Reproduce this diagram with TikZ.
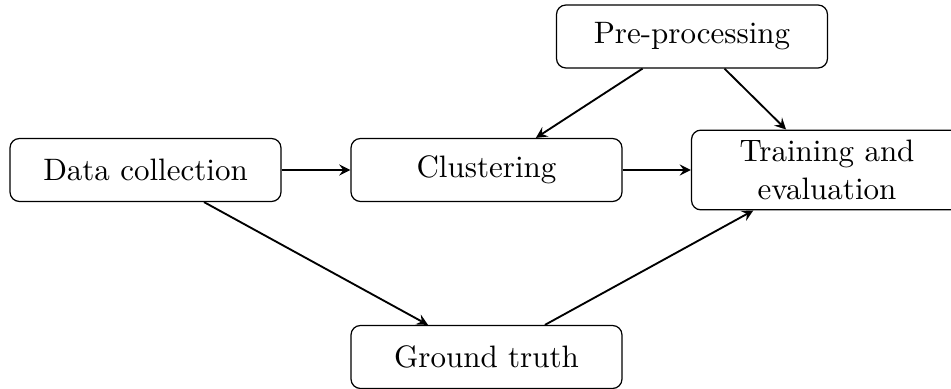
\documentclass[tikz,border=0pt]{standalone}
\usetikzlibrary{arrows}

\begin{document}
\begin{tikzpicture}[x=0.3226pt,y=0.3226pt,yscale=-1,xscale=1,
  stage/.style={draw,rounded corners=3pt,minimum width=87.4pt,minimum height=20.3pt,align=center},
  flow/.style={->,>=stealth,semithick}]
%set diagram left start at 0, and has height of 389
\useasboundingbox (0,0) rectangle (951,389);

% Text Node
\node[stage] (datacoll) at (145.5,170) {Data collection};
% Text Node
\node[stage] (clust) at (486.5,170) {Clustering};
% Text Node
\node[stage] (train) at (827,170) {Training and\\evaluation};
% Text Node
\node[stage] (preproc) at (692,36.5) {Pre-processing};
% Text Node
\node[stage] (truth) at (486.5,357) {Ground truth};

%Straight Lines
\draw[flow] (datacoll) -- (clust);
\draw[flow] (clust) -- (train);
\draw[flow] (preproc) -- (clust);
\draw[flow] (preproc) -- (train);
\draw[flow] (datacoll) -- (truth);
\draw[flow] (truth) -- (train);

\end{tikzpicture}
\end{document}
